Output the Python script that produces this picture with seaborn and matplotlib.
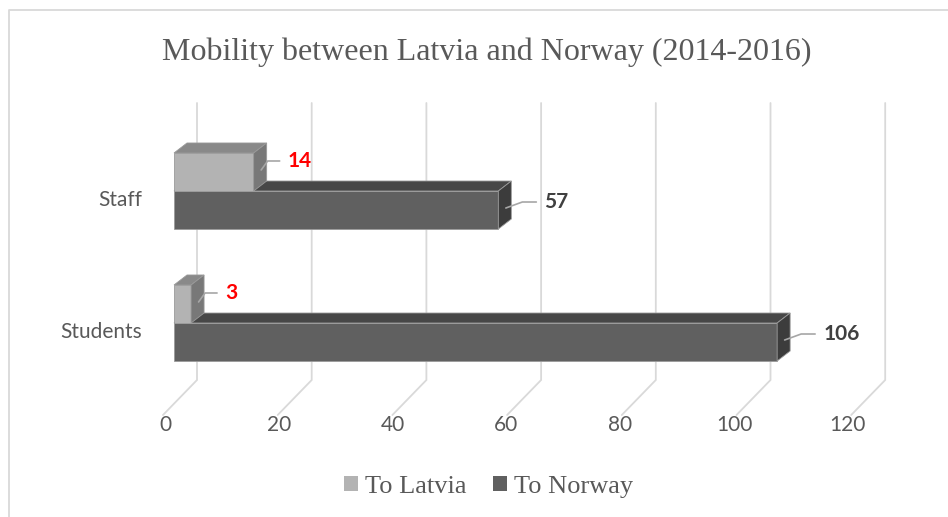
import matplotlib
matplotlib.use("Agg")
import matplotlib.pyplot as plt
import matplotlib.transforms as mtransforms
from matplotlib.patches import Polygon, Patch
from matplotlib.lines import Line2D
import seaborn as sns
import pandas as pd

# ---- data ----
categories = ["Staff", "Students"]
series_names = ["To Latvia", "To Norway"]
to_latvia = [14, 3]
to_norway = [57, 106]
x_ticks = [0, 20, 40, 60, 80, 100, 120]
title = "Mobility between Latvia and Norway (2014-2016)"

df = pd.DataFrame({
    "category": categories * 2,
    "direction": [series_names[0]] * 2 + [series_names[1]] * 2,
    "value": to_latvia + to_norway,
})

sns.set_style("white")
plt.rcParams["font.family"] = ["Lato", "DejaVu Sans"]

W, H, DPI = 948, 517, 100
fig = plt.figure(figsize=(W / DPI, H / DPI), dpi=DPI)

# axes placement in pixels
ax_l, ax_r, ax_t, ax_b = 150, 900, 100, 380
ax = fig.add_axes([ax_l / W, 1 - ax_b / H, (ax_r - ax_l) / W, (ax_b - ax_t) / H])

PX_X = 5.69     # pixels per unit
X0 = 174        # pixel of value 0
PX_Y = 132      # pixels per category step
Y0 = 191        # pixel of first category centre

front = {"To Latvia": "#b3b3b3", "To Norway": "#606060"}
top_c = {"To Latvia": "#898989", "To Norway": "#474747"}
side_c = {"To Latvia": "#787878", "To Norway": "#3c3c3c"}
edge = "#9a9a9a"

sns.barplot(data=df, x="value", y="category", hue="direction",
            order=categories, hue_order=series_names, orient="h",
            palette=[front[s] for s in series_names], width=0.576,
            ax=ax, legend=False, edgecolor=edge, linewidth=0.6, saturation=1)

ax.set_xlim((ax_l - X0) / PX_X, (ax_r - X0) / PX_X)
ax.set_ylim((ax_b - Y0) / PX_Y, (ax_t - Y0) / PX_Y)

for s in ax.spines.values():
    s.set_visible(False)
ax.set_xlabel("")
ax.set_ylabel("")
ax.set_xticks([])

# back-wall gridlines + floor diagonals
y_top = (103 - Y0) / PX_Y
y_floor = (380 - Y0) / PX_Y
y_front = (415 - Y0) / PX_Y
for v in x_ticks:
    xb = v * (5.735 / PX_X) + 23 / PX_X
    ax.plot([xb, xb, xb - 34 / PX_X], [y_top, y_floor, y_front],
            color="#d9d9d9", lw=1.3, zorder=1, clip_on=False,
            solid_joinstyle="miter")

# 3D faces
dx = 13 / PX_X
dy = -10 / PX_Y
to_px = fig.dpi_scale_trans
for cont, name in zip(ax.containers, series_names):
    z = 3 if name == "To Norway" else 5
    for bar in cont:
        bar.set_zorder(z)
        x0 = bar.get_x()
        x1 = x0 + bar.get_width()
        ya = bar.get_y()
        yb = ya + bar.get_height()
        yt, ybt = min(ya, yb), max(ya, yb)
        topf = Polygon([(x0, yt), (x1, yt), (x1 + dx, yt + dy), (x0 + dx, yt + dy)],
                       closed=True, facecolor=top_c[name], edgecolor=edge, lw=0.6, zorder=z)
        sidef = Polygon([(x1, yt), (x1, ybt), (x1 + dx, ybt + dy), (x1 + dx, yt + dy)],
                        closed=True, facecolor=side_c[name], edgecolor=edge, lw=0.6, zorder=z)
        ax.add_patch(topf)
        ax.add_patch(sidef)

        # data label with leader line
        ymid = (yt + ybt) / 2
        if name == "To Latvia":
            lx, ly, col, kx, ex = 34, -11, "#ff0000", 14, 26
        else:
            lx, ly, col, kx, ex = 46, -8, "#404040", 24, 38
        ax.plot([x1 + 1 / PX_X + dx / 2, x1 + kx / PX_X, x1 + ex / PX_X],
                [ymid + dy / 2 + 3 / PX_Y, ymid + ly / PX_Y, ymid + ly / PX_Y],
                color="#a6a6a6", lw=1.2, zorder=6, clip_on=False)
        ax.text(x1 + lx / PX_X, ymid + ly / PX_Y, f"{bar.get_width():g}",
                color=col, fontsize=15, fontweight="bold", ha="left", va="center",
                zorder=7)

# category labels
ax.set_yticks(range(len(categories)))
ax.set_yticklabels(categories, fontsize=15, color="#595959")
ax.tick_params(axis="y", length=0, pad=6)
for lab in ax.get_yticklabels():
    lab.set_transform(lab.get_transform() + mtransforms.ScaledTranslation(0, -7 / DPI, to_px))

# x tick labels under the floor
xt_trans = mtransforms.blended_transform_factory(ax.transData, fig.transFigure)
for v in x_ticks:
    ax.text(v - 9 / PX_X, 1 - 425 / H, f"{v}", transform=xt_trans,
            fontsize=15, color="#595959", ha="center", va="center")

# title
fig.text(487 / W, 1 - 52 / H, title, fontsize=23, color="#595959",
         family=["Liberation Serif", "DejaVu Serif"], ha="center", va="center")

# legend
handles = [Patch(facecolor=front[s], edgecolor="none", label=s) for s in series_names]
fig.legend(handles=handles, loc="center", bbox_to_anchor=(489 / W, 1 - 487 / H),
           ncol=2, frameon=False, handlelength=0.5, handleheight=0.5,
           handletextpad=0.3, columnspacing=1.0,
           prop={"family": ["Liberation Serif", "DejaVu Serif"], "size": 19},
           labelcolor="#595959")

# chart border
fig.add_artist(Line2D([9 / W, 9 / W, 1], [0, 1 - 10 / H, 1 - 10 / H],
                      transform=fig.transFigure, color="#d9d9d9", lw=1.3))

fig.savefig("out.png", dpi=DPI)
